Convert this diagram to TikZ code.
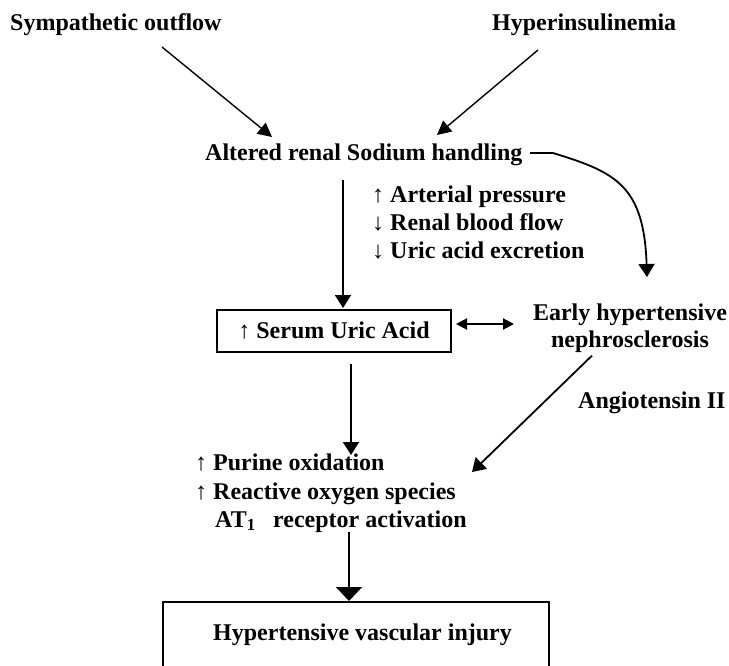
\documentclass[tikz,border=0pt]{standalone}
\usepackage{fontspec}
\setmainfont{Liberation Serif}
\usetikzlibrary{arrows.meta}
\begin{document}
\begin{tikzpicture}[x=1pt,y=-1pt,
  lbl/.style={font=\fontsize{24}{27}\selectfont\bfseries, inner sep=0pt, anchor=base west},
  ctr/.style={font=\fontsize{24}{27}\selectfont\bfseries, inner sep=0pt, align=center},
  box/.style={draw, line width=2pt, inner sep=0pt, font=\fontsize{24}{27}\selectfont\bfseries},
  thin/.style={line width=1.4pt, -{Triangle[width=14pt,length=14pt]}},
  conn/.style={line width=1.8pt, -{Triangle[width=16pt,length=13pt]}},
  big/.style={line width=2pt, -{Triangle[width=26pt,length=14pt]}},
  dbl/.style={line width=2pt, {Triangle[width=11pt,length=11pt]}-{Triangle[width=11pt,length=11pt]}}]
\useasboundingbox (0,0) rectangle (729,665);
\clip (0,0) rectangle (729,665);

\node[lbl] (symp) at (10,30) {Sympathetic outflow};
\node[lbl] (hyper) at (492,30) {Hyperinsulinemia};
\node[lbl] (alt) at (205,160) {Altered renal Sodium handling};
\node[lbl] (e1) at (372,202) {↑ Arterial pressure};
\node[lbl] (e2) at (372,230) {↓ Renal blood flow};
\node[lbl] (e3) at (372,258) {↓ Uric acid excretion};
\node[box, minimum width=234pt, minimum height=42pt] (serum) at (334,331) {↑ Serum Uric Acid};
\node[ctr] (early) at (630,328) {Early hypertensive\\nephrosclerosis};
\node[lbl] (ang) at (578,408) {Angiotensin II};
\node[lbl] (p1) at (195,470) {↑ Purine oxidation};
\node[lbl] (p2) at (195,499) {↑ Reactive oxygen species};
\node[lbl] (p3) at (215,527) {AT\textsubscript{1}};
\node[lbl] (p3b) at (273,527) {receptor activation};
\node[box, minimum width=386pt, minimum height=72pt] (hyp) at (356,638) {};
\node[lbl] (hyptxt) at (213,640) {Hypertensive vascular injury};

\coordinate (curveend) at (647,277);

\draw[thin] ([shift={(152,17)}]symp.base west) -- ([shift={(67,-23)}]alt.base west);
\draw[thin] ([shift={(46,20)}]hyper.base west) -- ([shift={(232,-25)}]alt.base west);
\draw[conn] ([shift={(138,20)}]alt.base west) -- ([shift={(9,-1)}]serum.north);
\draw[conn] ([shift={(325,-7)}]alt.base west) -- ++(23,0)
  .. controls (615,172) and (644,185) .. (curveend);
\draw[dbl] ([shift={(4,-7)}]serum.east) -- ([shift={(62,-7)}]serum.east);
\draw[conn] ([shift={(17,11)}]serum.south) -- ([shift={(156,-15)}]p1.base west);
\draw[conn] ([shift={(-38,3)}]early.south) -- ([shift={(277,-27)}]p2.base west);
\draw[big] ([shift={(76,5)}]p3b.base west) -- ([shift={(-7,0)}]hyp.north);
\end{tikzpicture}
\end{document}
